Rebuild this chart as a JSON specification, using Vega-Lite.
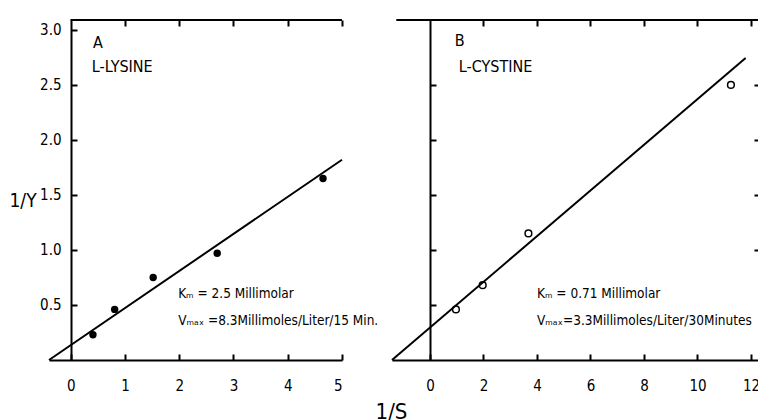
{
  "$schema": "https://vega.github.io/schema/vega-lite/v6.json",
  "background": "white",
  "padding": {"left": 9, "top": 19, "right": 0, "bottom": 0},
  "bounds": "flush",
  "spacing": 50,
  "config": {
    "view": {"stroke": null},
    "font": "DejaVu Sans Condensed, Roboto, sans-serif",
    "axis": {
      "grid": false,
      "domainColor": "black",
      "tickColor": "black",
      "labelColor": "black",
      "titleColor": "black",
      "domainWidth": 2,
      "tickWidth": 2,
      "labelFont": "DejaVu Sans Condensed, Roboto, sans-serif",
      "labelFontSize": 15,
      "titleFont": "DejaVu Sans Condensed, Roboto, sans-serif",
      "titleFontWeight": "normal",
      "labelOverlap": false
    },
    "text": {"font": "DejaVu Sans Condensed, Roboto, sans-serif", "fontSize": 16, "color": "black"}
  },
  "datasets": {
    "lysine_points": [
      {"s": 0.41, "v": 0.23},
      {"s": 0.81, "v": 0.46},
      {"s": 1.52, "v": 0.75},
      {"s": 2.7, "v": 0.97},
      {"s": 4.65, "v": 1.65}
    ],
    "lysine_fit": [
      {"s": -0.4, "v": 0},
      {"s": 5.0, "v": 1.82}
    ],
    "lysine_text": [
      {"s": 0.41, "v": 2.84, "label": "A"},
      {"s": 0.39, "v": 2.62, "label": "L-LYSINE"}
    ],
    "lysine_constants": [
      {"s": 1.98, "v": 0.56, "label": "Kₘ = 2.5 Millimolar"},
      {"s": 1.98, "v": 0.32, "label": "Vₘₐₓ =8.3Millimoles/Liter/15 Min."}
    ],
    "cystine_points": [
      {"s": 0.97, "v": 0.46},
      {"s": 1.97, "v": 0.68},
      {"s": 3.68, "v": 1.15},
      {"s": 11.25, "v": 2.5}
    ],
    "cystine_fit": [
      {"s": -1.42, "v": 0},
      {"s": 11.8, "v": 2.745}
    ],
    "cystine_text": [
      {"s": 0.93, "v": 2.85, "label": "B"},
      {"s": 1.08, "v": 2.62, "label": "L-CYSTINE"}
    ],
    "cystine_constants": [
      {"s": 4.0, "v": 0.56, "label": "Kₘ = 0.71 Millimolar"},
      {"s": 4.0, "v": 0.32, "label": "Vₘₐₓ=3.3Millimoles/Liter/30Minutes"}
    ]
  },
  "hconcat": [
    {
      "width": 293,
      "height": 340,
      "resolve": {"axis": {"x": "independent", "y": "independent"}},
      "layer": [
        {
          "data": {"name": "lysine_points"},
          "mark": {"type": "circle", "size": 55, "color": "black", "opacity": 1},
          "encoding": {
            "x": {"field": "s", "type": "quantitative",
              "scale": {"domain": [-0.4, 5.0], "nice": false, "zero": false},
              "axis": {"orient": "bottom", "values": [0, 1, 2, 3, 4, 5], "format": "d", "tickSize": -6, "labelPadding": 24,
                "title": "1/S", "titleX": 342, "titleY": 58, "titleAlign": "center", "titleBaseline": "alphabetic", "titleFontSize": 22}},
            "y": {"field": "v", "type": "quantitative",
              "scale": {"domain": [0, 3.09], "nice": false, "zero": true},
              "axis": {"orient": "left", "values": [0.5, 1, 1.5, 2, 2.5, 3], "format": ".1f", "offset": -22, "tickSize": -6, "labelPadding": 16,
                "title": "1/Y", "titleAngle": 0, "titleX": -62, "titleY": 180, "titleAlign": "left", "titleBaseline": "middle", "titleFontSize": 19}}
          }
        },
        {
          "data": {"name": "lysine_fit"},
          "mark": {"type": "rule", "color": "black", "strokeWidth": 2},
          "encoding": {
            "x": {"datum": 0, "type": "quantitative",
              "axis": {"orient": "top", "values": [1, 2, 3, 4, 5], "domain": false, "labels": false, "tickSize": -6, "title": null}},
            "x2": {"datum": 5},
            "y": {"datum": 3.09, "type": "quantitative", "axis": null}
          }
        },
        {
          "data": {"name": "lysine_fit"},
          "mark": {"type": "line", "color": "black", "strokeWidth": 2},
          "encoding": {
            "x": {"field": "s", "type": "quantitative", "axis": null},
            "y": {"field": "v", "type": "quantitative", "axis": null}
          }
        },
        {
          "data": {"name": "lysine_text"},
          "mark": {"type": "text", "align": "left", "baseline": "alphabetic"},
          "encoding": {
            "x": {"field": "s", "type": "quantitative", "axis": null},
            "y": {"field": "v", "type": "quantitative", "axis": null},
            "text": {"field": "label"}
          }
        },
        {
          "data": {"name": "lysine_constants"},
          "mark": {"type": "text", "align": "left", "baseline": "alphabetic", "fontSize": 13.5},
          "encoding": {
            "x": {"field": "s", "type": "quantitative", "axis": null},
            "y": {"field": "v", "type": "quantitative", "axis": null},
            "text": {"field": "label"}
          }
        }
      ]
    },
    {
      "width": 367,
      "height": 340,
      "resolve": {"axis": {"x": "independent", "y": "independent"}},
      "layer": [
        {
          "data": {"name": "cystine_points"},
          "mark": {"type": "point", "shape": "circle", "size": 45, "color": "black", "filled": false, "strokeWidth": 1.5, "opacity": 1},
          "encoding": {
            "x": {"field": "s", "type": "quantitative",
              "scale": {"domain": [-1.42, 12.3], "nice": false, "zero": false},
              "axis": {"orient": "bottom", "values": [0, 2, 4, 6, 8, 10, 12], "format": "d", "tickSize": -6, "labelPadding": 24, "title": null}},
            "y": {"field": "v", "type": "quantitative",
              "scale": {"domain": [0, 3.09], "nice": false, "zero": true},
              "axis": {"orient": "left", "values": [0.5, 1, 1.5, 2, 2.5], "labels": false, "offset": -38, "tickSize": -6, "title": null}}
          }
        },
        {
          "data": {"name": "cystine_fit"},
          "mark": {"type": "rule", "color": "black", "strokeWidth": 2},
          "encoding": {
            "x": {"datum": -1.25, "type": "quantitative",
              "axis": {"orient": "top", "values": [2, 4, 6, 8, 10, 12], "domain": false, "labels": false, "tickSize": -6, "title": null}},
            "x2": {"datum": 12.3},
            "y": {"datum": 3.09, "type": "quantitative",
              "axis": {"orient": "right", "values": [1, 1.5, 2, 2.5], "domain": false, "labels": false, "tickSize": -5, "title": null}}
          }
        },
        {
          "data": {"name": "cystine_fit"},
          "mark": {"type": "line", "color": "black", "strokeWidth": 2},
          "encoding": {
            "x": {"field": "s", "type": "quantitative", "axis": null},
            "y": {"field": "v", "type": "quantitative", "axis": null}
          }
        },
        {
          "data": {"name": "cystine_text"},
          "mark": {"type": "text", "align": "left", "baseline": "alphabetic"},
          "encoding": {
            "x": {"field": "s", "type": "quantitative", "axis": null},
            "y": {"field": "v", "type": "quantitative", "axis": null},
            "text": {"field": "label"}
          }
        },
        {
          "data": {"name": "cystine_constants"},
          "mark": {"type": "text", "align": "left", "baseline": "alphabetic", "fontSize": 13.5},
          "encoding": {
            "x": {"field": "s", "type": "quantitative", "axis": null},
            "y": {"field": "v", "type": "quantitative", "axis": null},
            "text": {"field": "label"}
          }
        }
      ]
    }
  ]
}
